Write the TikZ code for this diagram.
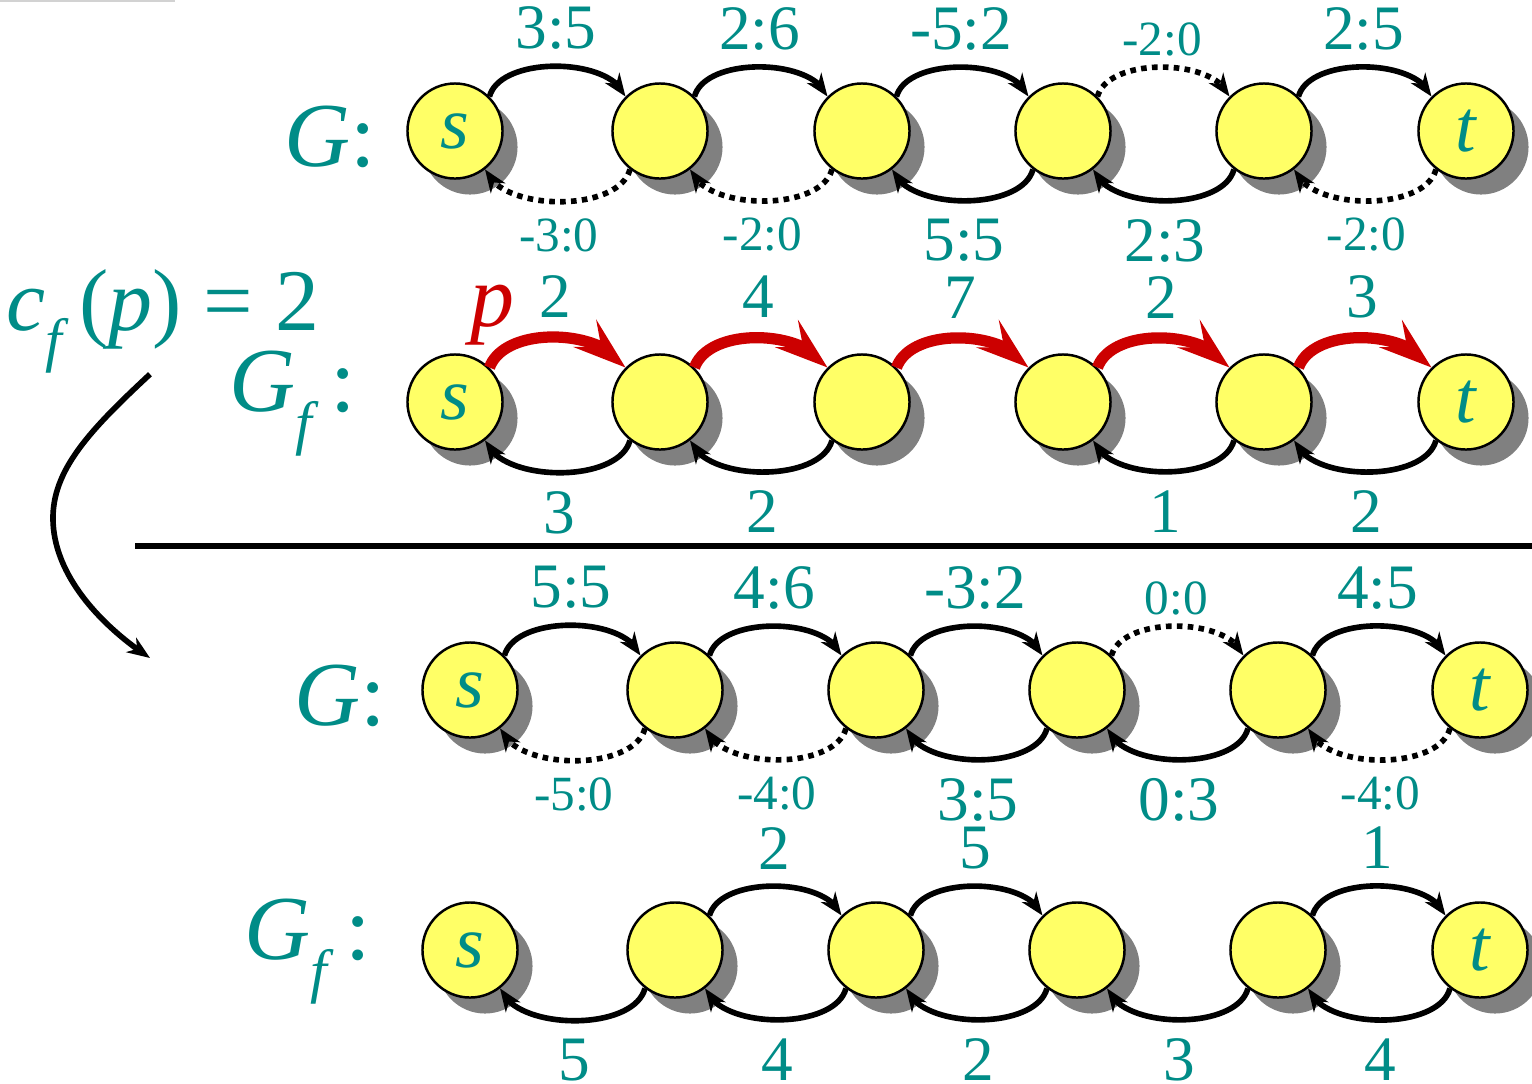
\documentclass[tikz,border=0pt]{standalone}
\usepackage{fontspec}
\setmainfont{Liberation Serif}
\usepackage{xcolor}
\usepackage{tikz}
\usetikzlibrary{
    arrows.meta,
    bending,
    positioning,
    shadows
}

\definecolor{labteal}{RGB}{0,140,135}
\definecolor{vtxyellow}{RGB}{255,255,102}
\definecolor{vtxshadow}{RGB}{128,128,128}
\definecolor{pathred}{RGB}{204,0,0}

\begin{document}
\begin{tikzpicture}[
    x=0.01cm, y=0.01cm,
    vtx/.style={
        circle,
        draw,
        line width=0.7pt,
        fill=vtxyellow,
        minimum size=0.95cm,
        inner sep=0pt,
        drop shadow={shadow xshift=0.15cm, shadow yshift=-0.16cm, fill=vtxshadow, opacity=1},
        text=labteal,
        font=\fontsize{21}{21}\selectfont\itshape
    },
    fwd/.style={line width=1.6pt, -{Stealth[length=6.5pt,width=5pt,inset=2pt]}, out=75, in=110, looseness=0.8},
    bwd/.style={line width=1.6pt, -{Stealth[length=6.5pt,width=5pt,inset=2pt]}, out=-105, in=-70, looseness=0.8},
    redarc/.style={line width=3.2pt, draw=pathred, -{Stealth[length=15pt,width=10pt,inset=6pt]}, out=70, in=120, looseness=0.85},
    dotline/.style={dash pattern=on 1.6pt off 1.5pt},
    lblup/.style={above=4pt, inner sep=0pt, text=labteal, font=\fontsize{18}{18}\selectfont},
    lblupsm/.style={above=2.2pt, inner sep=0pt, text=labteal, font=\fontsize{14}{14}\selectfont},
    lbldn/.style={below=4.5pt, inner sep=0pt, text=labteal, font=\fontsize{18}{18}\selectfont},
    lbldnsm/.style={below=4pt, inner sep=0pt, text=labteal, font=\fontsize{14}{14}\selectfont},
    glabel/.style={inner sep=0pt, text=labteal, font=\fontsize{26}{26}\selectfont},
    cfarrow/.style={line width=1.6pt, -{Stealth[length=6.5pt,width=5pt,inset=2pt]}}
]
\useasboundingbox (0,0) rectangle (1532,-1084);

% ============================================================
% VERTICES
% ============================================================

% G (before)
\node[vtx] (a1) at (455,-131)  {s};
\node[vtx] (a2) at (660,-131)  {};
\node[vtx] (a3) at (862,-131)  {};
\node[vtx] (a4) at (1063,-131) {};
\node[vtx] (a5) at (1264,-131) {};
\node[vtx] (a6) at (1466,-131) {t};

% Gf (before)
\node[vtx] (b1) at (455,-402)  {s};
\node[vtx] (b2) at (660,-402)  {};
\node[vtx] (b3) at (862,-402)  {};
\node[vtx] (b4) at (1063,-402) {};
\node[vtx] (b5) at (1264,-402) {};
\node[vtx] (b6) at (1466,-402) {t};

% G (after)
\node[vtx] (c1) at (470,-690)  {s};
\node[vtx] (c2) at (675,-690)  {};
\node[vtx] (c3) at (876,-690)  {};
\node[vtx] (c4) at (1077,-690) {};
\node[vtx] (c5) at (1278,-690) {};
\node[vtx] (c6) at (1480,-690) {t};

% Gf (after)
\node[vtx] (d1) at (470,-950)  {s};
\node[vtx] (d2) at (675,-950)  {};
\node[vtx] (d3) at (876,-950)  {};
\node[vtx] (d4) at (1077,-950) {};
\node[vtx] (d5) at (1278,-950) {};
\node[vtx] (d6) at (1480,-950) {t};

% ============================================================
% ROW LABELS
% ============================================================
\node[glabel, left=0.3cm of a1, yshift=-0.06cm] (ga) {\textit{G}:};
\node[glabel, left=0.5cm of b1, yshift=-0.02cm] (gfb) {\textit{G}\raisebox{-0.35em}{\fontsize{17}{17}\selectfont\textit{f}}\hspace{0.12em}:};
\node[glabel, left=0.35cm of c1, yshift=-0.06cm] (gc) {\textit{G}:};
\node[glabel, left=0.5cm of d1, yshift=-0.02cm] (gfd) {\textit{G}\raisebox{-0.35em}{\fontsize{17}{17}\selectfont\textit{f}}\hspace{0.12em}:};

\node[glabel, anchor=base, font=\fontsize{25}{25}\selectfont] (cf) at (163,-330)
    {\textit{c}\raisebox{-0.35em}{\fontsize{17}{17}\selectfont\textit{f}}\hspace{0.12em}(\textit{p}) = 2};
\node[inner sep=0pt, text=pathred, font=\fontsize{25}{25}\selectfont\itshape] (plab) at (492,-315) {p};
\coordinate (cfend) at (150,-658);

% ============================================================
% ARCS
% ============================================================

% G (before)
\draw[fwd] (a1.45) to node[lblup] {3:5} (a2.135);
\draw[fwd] (a2.45) to node[lblup] {2:6} (a3.135);
\draw[fwd] (a3.45) to node[lblup] {-5:2} (a4.135);
\draw[fwd, dotline] (a4.45) to node[lblupsm] {-2:0} (a5.135);
\draw[fwd] (a5.45) to node[lblup] {2:5} (a6.135);
\draw[bwd, dotline] (a2.-128) to node[lbldnsm] {-3:0} (a1.-52);
\draw[bwd, dotline] (a3.-128) to node[lbldnsm] {-2:0} (a2.-52);
\draw[bwd] (a4.-128) to node[lbldn] {5:5} (a3.-52);
\draw[bwd] (a5.-128) to node[lbldn] {2:3} (a4.-52);
\draw[bwd, dotline] (a6.-128) to node[lbldnsm] {-2:0} (a5.-52);

% Gf (before), augmenting path in red
\draw[redarc] (b1.45) to node[lblup] {2} (b2.135);
\draw[redarc] (b2.45) to node[lblup] {4} (b3.135);
\draw[redarc] (b3.45) to node[lblup] {7} (b4.135);
\draw[redarc] (b4.45) to node[lblup] {2} (b5.135);
\draw[redarc] (b5.45) to node[lblup] {3} (b6.135);
\draw[bwd] (b2.-128) to node[lbldn] {3} (b1.-52);
\draw[bwd] (b3.-128) to node[lbldn] {2} (b2.-52);
\draw[bwd] (b5.-128) to node[lbldn] {1} (b4.-52);
\draw[bwd] (b6.-128) to node[lbldn] {2} (b5.-52);

% G (after)
\draw[fwd] (c1.45) to node[lblup] {5:5} (c2.135);
\draw[fwd] (c2.45) to node[lblup] {4:6} (c3.135);
\draw[fwd] (c3.45) to node[lblup] {-3:2} (c4.135);
\draw[fwd, dotline] (c4.45) to node[lblupsm] {0:0} (c5.135);
\draw[fwd] (c5.45) to node[lblup] {4:5} (c6.135);
\draw[bwd, dotline] (c2.-128) to node[lbldnsm] {-5:0} (c1.-52);
\draw[bwd, dotline] (c3.-128) to node[lbldnsm] {-4:0} (c2.-52);
\draw[bwd] (c4.-128) to node[lbldn] {3:5} (c3.-52);
\draw[bwd] (c5.-128) to node[lbldn] {0:3} (c4.-52);
\draw[bwd, dotline] (c6.-128) to node[lbldnsm] {-4:0} (c5.-52);

% Gf (after)
\draw[fwd] (d2.45) to node[lblup] {2} (d3.135);
\draw[fwd] (d3.45) to node[lblup] {5} (d4.135);
\draw[fwd] (d5.45) to node[lblup] {1} (d6.135);
\draw[bwd] (d2.-128) to node[lbldn] {5} (d1.-52);
\draw[bwd] (d3.-128) to node[lbldn] {4} (d2.-52);
\draw[bwd] (d4.-128) to node[lbldn] {2} (d3.-52);
\draw[bwd] (d5.-128) to node[lbldn] {3} (d4.-52);
\draw[bwd] (d6.-128) to node[lbldn] {4} (d5.-52);

% ============================================================
% SEPARATOR AND UPDATE ARROW
% ============================================================
\draw[line width=1.6pt] (135,-546) -- (1532,-546);
\draw[gray!35, line width=0.6pt] (0,-1) -- (175,-1);
\draw[cfarrow] ([xshift=-0.13cm]cf.south) .. controls (90,-430) and (52,-470) .. (53,-520)
    .. controls (54,-575) and (100,-625) .. (cfend);

\end{tikzpicture}
\end{document}
